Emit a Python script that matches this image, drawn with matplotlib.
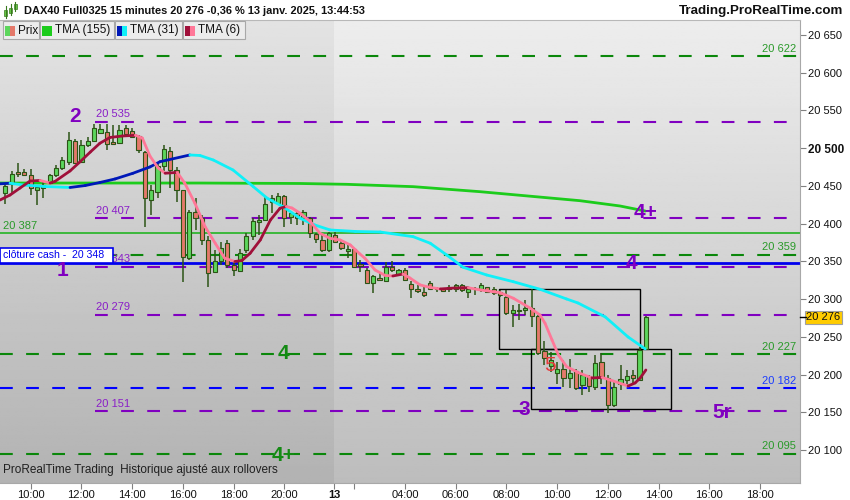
import numpy as np
import matplotlib
matplotlib.use("Agg")
import matplotlib.pyplot as plt
from matplotlib.patches import Rectangle
from matplotlib.collections import LineCollection
from matplotlib import transforms

plt.rcParams["font.family"] = ["Liberation Sans", "DejaVu Sans"]
plt.rcParams["lines.scale_dashes"] = False

# --- 15 min bars: Fri 10 Jan 09:00..21:45 (idx 0-51), Mon 13 Jan 01:15..13:30 (idx 52-101)
opens = [20441, 20452, 20468, 20468, 20464, 20444, 20447, 20454, 20464, 20474,
         20482, 20510, 20482, 20504, 20510, 20520, 20522, 20508, 20507, 20527,
         20523, 20516, 20495, 20431, 20442, 20476, 20496, 20471, 20445, 20354,
         20416, 20408, 20378, 20336, 20350, 20374, 20345, 20337, 20365, 20383,
         20402, 20405, 20429, 20427, 20437, 20409, 20414, 20408, 20407, 20386,
         20378, 20365,
         20385, 20374, 20364, 20366, 20347, 20339, 20321, 20328, 20324, 20342,
         20333, 20339, 20320, 20314, 20309, 20321, 20313, 20314, 20313, 20314,
         20318, 20310, 20315, 20314, 20316, 20314, 20310, 20303, 20281, 20284,
         20286, 20288, 20277, 20231, 20211, 20202, 20207, 20196, 20204, 20186,
         20198, 20183, 20217, 20195, 20160, 20188, 20193, 20199, 20193, 20234]
highs = [20452, 20470, 20480, 20472, 20472, 20451, 20458, 20466, 20478, 20488,
         20522, 20512, 20511, 20515, 20532, 20532, 20532, 20531, 20531, 20531,
         20527, 20518, 20496, 20451, 20482, 20504, 20502, 20475, 20445, 20418,
         20434, 20411, 20383, 20365, 20376, 20378, 20350, 20367, 20387, 20407,
         20411, 20436, 20438, 20440, 20438, 20416, 20416, 20418, 20409, 20387,
         20387, 20389,
         20389, 20378, 20372, 20368, 20352, 20341, 20332, 20334, 20349, 20350,
         20340, 20341, 20324, 20318, 20319, 20324, 20316, 20315, 20318, 20320,
         20320, 20314, 20316, 20321, 20316, 20316, 20312, 20312, 20292, 20294,
         20299, 20313, 20279, 20244, 20230, 20217, 20219, 20220, 20207, 20206,
         20199, 20226, 20228, 20199, 20191, 20213, 20206, 20206, 20237, 20278]
lows = [20426, 20441, 20462, 20464, 20438, 20425, 20434, 20452, 20462, 20471,
        20478, 20480, 20480, 20502, 20509, 20520, 20498, 20504, 20505, 20517,
        20513, 20494, 20396, 20411, 20434, 20470, 20447, 20429, 20323, 20352,
        20392, 20372, 20316, 20334, 20345, 20341, 20330, 20336, 20361, 20378,
        20385, 20403, 20414, 20425, 20396, 20400, 20398, 20398, 20381, 20374,
        20363, 20363,
        20374, 20365, 20354, 20341, 20336, 20320, 20308, 20324, 20323, 20336,
        20330, 20324, 20301, 20308, 20303, 20313, 20310, 20309, 20310, 20310,
        20310, 20302, 20306, 20310, 20308, 20305, 20303, 20279, 20263, 20272,
        20279, 20263, 20226, 20213, 20203, 20188, 20184, 20182, 20180, 20173,
        20177, 20180, 20188, 20149, 20157, 20180, 20186, 20188, 20191, 20233]
closes = [20450, 20466, 20466, 20465, 20447, 20449, 20451, 20464, 20474, 20484,
          20511, 20481, 20504, 20509, 20527, 20525, 20506, 20505, 20524, 20519,
          20515, 20498, 20434, 20445, 20476, 20499, 20471, 20445, 20356, 20416,
          20407, 20378, 20334, 20350, 20368, 20345, 20339, 20361, 20383, 20404,
          20405, 20426, 20434, 20437, 20407, 20414, 20407, 20415, 20387, 20379,
          20365, 20387,
          20376, 20368, 20366, 20343, 20344, 20321, 20331, 20325, 20343, 20338,
          20339, 20325, 20313, 20311, 20305, 20314, 20315, 20311, 20316, 20318,
          20312, 20313, 20313, 20318, 20310, 20308, 20305, 20281, 20285, 20286,
          20288, 20277, 20229, 20222, 20219, 20207, 20195, 20202, 20182, 20199,
          20185, 20215, 20195, 20160, 20183, 20194, 20198, 20195, 20233, 20276]

# moving averages (bar index, price)
tma155_x = [-0.84, 14.9, 30.7, 46.5, 53.8, 64.3, 74.9, 90.6, 96.9, 100.9]
tma155_y = [20453.8, 20453.8, 20453.8, 20453.2, 20452.1, 20449.0, 20442.3,
            20430.4, 20423.4, 20416.7]

tma31_x = [-0.84, 0.74, 3.11, 6.26, 10.2, 12.6, 14.9, 17.3, 20.1, 22.8, 24.4,
           29.1, 30.7, 32.8, 35.9, 39.1, 41.3, 43.8, 46.5, 48.8, 51.2, 55.2,
           59.1, 64.3, 67.0, 69.6, 72.2, 75.9, 80.1, 84.3, 88.5, 90.3, 94.6,
           98.2, 100.9]
tma31_y = [20452.8, 20453.5, 20451.0, 20449.2, 20447.9, 20450.5, 20454.5,
           20459.2, 20466.7, 20475.1, 20482.1, 20491.0, 20490.3, 20484.3,
           20471.1, 20449.0, 20433.6, 20422.4, 20407.0, 20398.2, 20391.6,
           20389.6, 20388.9, 20382.7, 20374.0, 20358.4, 20342.1, 20331.9,
           20323.0, 20313.0, 20300.1, 20294.8, 20276.3, 20249.7, 20233.9]

tma6_x = [-0.84, 0.74, 2.32, 3.90, 5.47, 7.05, 7.84, 10.2, 11.8, 13.4, 14.9,
          16.5, 18.4, 20.5, 21.6, 22.8, 24.1, 25.2, 27.1, 28.3, 29.9, 31.5,
          33.1, 34.6, 36.2, 37.3, 38.6, 40.2, 41.8, 43.3, 44.3, 45.2, 46.5,
          48.1, 49.6, 51.2, 52.8, 54.4, 55.9, 56.7, 58.3, 59.9, 61.1, 62.7,
          63.8, 65.4, 67.0, 68.6, 70.9, 73.0, 74.9, 78.0, 80.1, 82.8, 84.3,
          85.1, 86.2, 87.2, 88.5, 90.6, 92.5, 94.1, 95.4, 96.9, 98.2, 99.3,
          100.1, 101.0]
tma6_y = [20431.3, 20437.9, 20447.2, 20456.5, 20457.2, 20453.8, 20456.0,
          20469.8, 20482.1, 20494.9, 20506.5, 20514.2, 20516.1, 20517.1,
          20513.5, 20489.6, 20473.7, 20466.8, 20467.9, 20453.5, 20426.9,
          20395.9, 20373.9, 20354.1, 20349.8, 20351.1, 20360.7, 20378.3,
          20404.8, 20420.3, 20422.7, 20420.7, 20413.7, 20402.6, 20387.2,
          20380.5, 20378.3, 20371.7, 20359.8, 20354.1, 20338.5, 20331.3,
          20330.6, 20333.2, 20327.9, 20318.7, 20315.4, 20313.4, 20314.7,
          20315.0, 20312.1, 20308.5, 20301.1, 20287.8, 20278.9, 20267.9,
          20245.8, 20225.9, 20210.4, 20201.6, 20195.4, 20196.1, 20192.7,
          20188.4, 20184.8, 20188.8, 20195.4, 20206.0]

# horizontal levels
purple_levels = [20535, 20407, 20343, 20279, 20151]
purple_labels = ["20 535", "20 407", "20 343", "20 279", "20 151"]
green_dash_levels = [20622, 20359, 20227, 20095]
green_dash_labels = ["20 622", "20 359", "20 227", "20 095"]
blue_dash_level = 20182
green_solid_level = 20387
cash_close = 20348
last_price = 20276

# zones (bar index, price)
zones = [(77.9, 100.0, 20233.9, 20313.4), (82.9, 104.9, 20154.4, 20233.9)]

# wave labels: text, bar index, price, colour, bold
wave_marks = [("2", 11.0, 20542.6, "#8000c0", True),
              ("1", 8.95, 20338.0, "#8000c0", True),
              ("4+", 100.9, 20415.4, "#8000c0", True),
              ("4", 98.8, 20347.8, "#8000c0", True),
              ("4", 43.9, 20227.2, "#138a13", True),
              ("4+", 43.9, 20093.3, "#138a13", True),
              ("3", 81.8, 20153.0, "#8000c0", True),
              ("5", 85.9, 20212.6, "#e83a3a", False),
              ("5r", 113.0, 20150.3, "#8000c0", True)]

# time axis
fri_ticks = ["10:00", "12:00", "14:00", "16:00", "18:00", "20:00"]
fri_hours = [10, 12, 14, 16, 18, 20]
mon_ticks = ["", "04:00", "06:00", "08:00", "10:00", "12:00", "14:00", "16:00", "18:00"]
mon_hours = [2, 4, 6, 8, 10, 12, 14, 16, 18]
y_ticks = list(range(20100, 20651, 50))

XMIN, XMAX = -0.84, 125.3
YMIN, YMAX = 20056.2, 20669.9
DAY_BREAK = 51.9

fig = plt.figure(figsize=(8.5, 5.0), dpi=100, facecolor="white")
ax = fig.add_axes([0, 17 / 500, 800 / 850, 463 / 500])


def fx(x):
    return x / 850


def fy(y):
    return 1 - y / 500


# background gradients (previous session darker)
grad = np.linspace(0, 1, 256).reshape(-1, 1)
right_bg = 0.930 - grad * 0.19
left_bg = right_bg - 0.04
ax.imshow(left_bg, cmap="gray", vmin=0, vmax=1, aspect="auto",
          extent=[XMIN, DAY_BREAK, YMIN, YMAX], zorder=0)
ax.imshow(right_bg, cmap="gray", vmin=0, vmax=1, aspect="auto",
          extent=[DAY_BREAK, XMAX, YMIN, YMAX], zorder=0)

# level lines
lw_lvl = 1.5
purple = "#8000c0"
for lv, lab in zip(purple_levels, purple_labels):
    ax.plot([14.1, XMAX], [lv, lv], color=purple, lw=lw_lvl, dashes=(9.2, 9.6), zorder=1)
    ax.annotate(lab, (14.3, lv), xytext=(0, 3.2), textcoords="offset points",
                color="#8a1ec8", fontsize=8, va="baseline", ha="left", zorder=6)
for lv, lab in zip(green_dash_levels, green_dash_labels):
    ax.plot([XMIN, XMAX], [lv, lv], color="#0b870b", lw=lw_lvl, dashes=(9.2, 9.6), zorder=1)
    ax.annotate(lab, (1.0, lv), xycoords=("axes fraction", "data"), xytext=(-3, 3.2),
                textcoords="offset points", color="#2a9a2a", fontsize=8,
                va="baseline", ha="right", zorder=6)
ax.plot([XMIN, XMAX], [blue_dash_level] * 2, color="#0000ff", lw=lw_lvl, dashes=(9.2, 9.6), zorder=1)
ax.annotate("20 182", (1.0, blue_dash_level), xycoords=("axes fraction", "data"),
            xytext=(-3, 3.2), textcoords="offset points", color="#1a3cff", fontsize=8,
            va="baseline", ha="right", zorder=6)
ax.plot([XMIN, XMAX], [green_solid_level] * 2, color="#3cb83c", lw=1.4, zorder=1)
ax.annotate("20 387", (XMIN, green_solid_level), xytext=(2, 3.2), textcoords="offset points",
            color="#2a9a2a", fontsize=8, va="baseline", ha="left", zorder=6)
ax.plot([XMIN, XMAX], [cash_close] * 2, color="#0000ee", lw=2.0, zorder=2)

# zones
for x0, x1, y0, y1 in zones:
    ax.add_patch(Rectangle((x0, y0), x1 - x0, y1 - y0, fill=False,
                           edgecolor="black", lw=1.0, zorder=3))

# TMA 155
ax.plot(tma155_x, tma155_y, color="#1ccc1c", lw=2.0, zorder=3.5, solid_capstyle="round")

# candles
idx = np.arange(len(opens))
o = np.array(opens, float)
c = np.array(closes, float)
h = np.array(highs, float)
l = np.array(lows, float)
wick = "#2c5416"
ax.vlines(idx, l, h, color=wick, lw=1.1, zorder=4)
body_lo = np.minimum(o, c)
body_h = np.maximum(np.abs(c - o), 1.3)
colors = np.where(c >= o, "#5cd65c", "#e4796a")
ax.bar(idx, body_h, bottom=body_lo, width=0.66, color=colors,
       edgecolor=wick, linewidth=0.8, zorder=4.5)


def two_tone(xs, ys, rise_col, fall_col, lw, z):
    pts = np.column_stack([xs, ys])
    segs = np.stack([pts[:-1], pts[1:]], axis=1)
    cols = [rise_col if b > a else fall_col for a, b in zip(ys[:-1], ys[1:])]
    lc = LineCollection(segs, colors=cols, linewidths=lw, zorder=z, capstyle="round")
    ax.add_collection(lc)


two_tone(tma31_x, tma31_y, "#0018b8", "#10f0f8", 2.0, 5)
two_tone(tma6_x, tma6_y, "#a0103a", "#ff7898", 2.0, 5.2)

# cash close box
ax.add_patch(Rectangle((XMIN, 20347.4), 16.94 - XMIN, 20.7, facecolor="white",
                       edgecolor="#0000ee", lw=1.2, zorder=7))
ax.text(-0.35, 20357.8, "clôture cash -  20 348", color="#0000ee", fontsize=7.6,
        va="center", ha="left", zorder=8)

# wave labels
for txt, xi, yi, col, bold in wave_marks:
    ax.text(xi, yi, txt, color=col, fontsize=15, fontweight="bold" if bold else "normal",
            ha="center", va="center", zorder=9)

ax.text(0.004, 7 / 463, "ProRealTime Trading  Historique ajusté aux rollovers",
        transform=ax.transAxes, fontsize=8.5, color="#202020", va="bottom", ha="left", zorder=9)

ax.set_xlim(XMIN, XMAX)
ax.set_ylim(YMIN, YMAX)

# axes styling
ax.spines["left"].set_visible(False)
ax.spines["top"].set_color("#b8b8b8")
ax.spines["right"].set_color("#a8a8a8")
ax.spines["bottom"].set_color("#a8a8a8")

ax.yaxis.tick_right()
ax.set_yticks(y_ticks)
ax.set_yticklabels([f"{v:,}".replace(",", " ") for v in y_ticks])
ax.tick_params(axis="y", direction="out", length=4, width=0.8, color="#808080",
               pad=2, labelsize=8, labelcolor="#111111")
for t in ax.get_yticklabels():
    if t.get_text() == "20 500":
        t.set_fontweight("bold")
        t.set_fontsize(8.5)

xt_pos = [(hh - 9) * 4 for hh in fri_hours] + [DAY_BREAK] + [52 + (hh - 1.25) * 4 for hh in mon_hours]
xt_lab = fri_ticks + ["13"] + mon_ticks
ax.set_xticks(xt_pos)
ax.set_xticklabels(xt_lab)
ax.tick_params(axis="x", direction="out", length=4, width=0.8, color="#808080",
               pad=1.0, labelsize=8, labelcolor="#111111")
for t in ax.get_xticklabels():
    if t.get_text() == "13":
        t.set_fontweight("bold")

# last price tag
tr = transforms.blended_transform_factory(ax.transAxes, ax.transData)
ax.text(1.008, last_price, "20 276", transform=tr, fontsize=8, color="#111111",
        va="center", ha="left", clip_on=False, zorder=10,
        bbox=dict(boxstyle="square,pad=0.15", fc="#ffcc00", ec="#a0a0a0", lw=0.8))
ax.plot([1.0, 1.008], [last_price, last_price], transform=tr, color="black",
        lw=1.0, clip_on=False, zorder=10)

# title bar
fig.text(fx(24), fy(11), "DAX40 Full0325 15 minutes 20 276 -0,36 % 13 janv. 2025, 13:44:53",
         fontsize=7.9, fontweight="bold", va="center", ha="left", color="#111111")
fig.text(fx(843), fy(11), "Trading.ProRealTime.com", fontsize=9.6, fontweight="bold",
         va="center", ha="right", color="#111111")
for cx, y0, y1, b0, b1 in [(5.7, 6, 18, 10, 16), (10.7, 4, 15, 8, 13), (15.3, 2, 11, 4, 9)]:
    fig.add_artist(plt.Line2D([fx(cx), fx(cx)], [fy(y1), fy(y0)], color="#3a7a20", lw=0.8))
    fig.add_artist(Rectangle((fx(cx - 1.5), fy(b1)), fx(3), fy(b0) - fy(b1),
                             facecolor="#66cc44", edgecolor="#3a7a20", lw=0.5))

# legend boxes
legend_items = [("Prix", 3, 39, ("#5cd65c", "#e4796a")),
                ("TMA (155)", 40, 114, ("#1ccc1c", "#1ccc1c")),
                ("TMA (31)", 115, 182, ("#0018b8", "#10f0f8")),
                ("TMA (6)", 183, 245, ("#a0103a", "#ff7898"))]
for name, x0, x1, (c1, c2) in legend_items:
    fig.add_artist(Rectangle((fx(x0), fy(39)), fx(x1 - x0), fy(21) - fy(39),
                             facecolor="#ececec", edgecolor="#a8a8a8", lw=0.8, zorder=20))
    fig.add_artist(Rectangle((fx(x0 + 2), fy(35.5)), fx(5), fy(25.5) - fy(35.5),
                             facecolor=c1, edgecolor="none", zorder=21))
    fig.add_artist(Rectangle((fx(x0 + 7), fy(35.5)), fx(5), fy(25.5) - fy(35.5),
                             facecolor=c2, edgecolor="none", zorder=21))
    fig.text(fx(x0 + 15), fy(30.5), name, fontsize=8.5, va="center", ha="left",
             color="#111111", zorder=22)

fig.savefig("out.png", dpi=100, facecolor="white")
